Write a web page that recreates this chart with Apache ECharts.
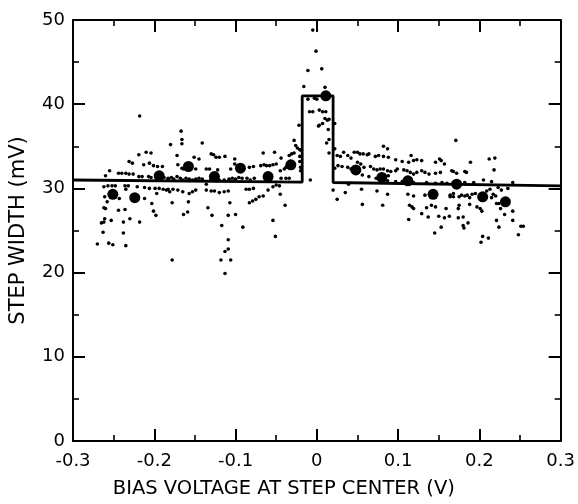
<!DOCTYPE html>
<html>
<head>
<meta charset="utf-8">
<script src="https://cdn.jsdelivr.net/npm/echarts@6/dist/echarts.min.js"></script>
<style>
html,body{margin:0;padding:0;background:#fff;}
#chart{width:578px;height:504px;}
</style>
</head>
<body>
<div id="chart"></div>
<script>
// Axis settings
const xMin = -0.3, xMax = 0.3, xStep = 0.1;
const yMin = 0, yMax = 50, yStep = 10;
const xTitle = 'BIAS VOLTAGE AT STEP CENTER (V)';
const yTitle = 'STEP WIDTH (mV)';

// Step-shaped fit line [bias V, width mV]
const stepLine = [[-0.3,31.0],[-0.018,30.75],[-0.018,41.0],[0.02,41.0],[0.02,30.7],[0.3,30.3]];

// Averaged values (large dots)
const averages = [
  [-0.251,29.3],[-0.224,28.9],[-0.194,31.5],[-0.158,32.6],[-0.126,31.4],[-0.094,32.4],
  [-0.060,31.4],[-0.032,32.8],[0.011,41.0],[0.048,32.2],[0.080,31.3],[0.112,30.9],
  [0.143,29.3],[0.172,30.5],[0.204,29.0],[0.232,28.4]
];

// Individual measurements, negative bias
const pointsLeft = [
  [-0.218,38.6],[-0.180,35.2],[-0.219,34.0],[-0.210,34.3],[-0.204,34.2],[-0.231,33.2],[-0.227,33.0],
  [-0.213,32.8],[-0.206,33.0],[-0.201,32.7],[-0.196,32.6],[-0.190,32.6],[-0.255,32.1],[-0.244,31.8],
  [-0.240,31.8],[-0.235,31.8],[-0.231,31.7],[-0.226,31.7],[-0.260,31.5],[-0.219,31.4],[-0.215,31.4],
  [-0.207,31.4],[-0.204,31.3],[-0.188,31.3],[-0.183,31.2],
  [-0.262,30.2],[-0.257,30.3],[-0.252,30.3],[-0.248,30.3],[-0.236,30.3],[-0.232,30.3],[-0.221,30.2],
  [-0.212,30.1],[-0.206,30.0],[-0.199,30.0],[-0.194,30.0],[-0.189,29.9],[-0.183,29.9],[-0.235,29.9],
  [-0.197,29.4],[-0.261,29.0],[-0.243,28.8],[-0.212,28.8],[-0.258,28.4],[-0.203,28.2],[-0.262,27.7],
  [-0.260,27.6],[-0.244,27.4],[-0.236,27.5],[-0.201,27.3],[-0.198,26.8],[-0.261,26.4],[-0.253,26.2],
  [-0.238,26.0],[-0.230,26.4],[-0.218,26.0],[-0.265,25.9],[-0.262,26.0],[-0.263,24.8],[-0.238,24.7],
  [-0.270,23.4],[-0.256,23.5],[-0.251,23.3],[-0.235,23.2],
  [-0.167,36.8],[-0.166,35.8],[-0.166,35.3],[-0.141,35.4],[-0.172,33.9],[-0.151,33.7],[-0.145,33.5],
  [-0.130,34.1],[-0.127,34.0],[-0.124,33.7],[-0.120,33.7],[-0.113,33.8],[-0.101,33.5],[-0.066,34.2],
  [-0.171,32.8],[-0.166,32.4],[-0.164,32.3],[-0.149,32.3],[-0.136,32.3],[-0.132,32.3],[-0.122,32.2],
  [-0.106,32.3],[-0.101,32.9],[-0.083,32.5],[-0.078,32.6],[-0.069,32.7],[-0.065,32.8],
  [-0.183,31.1],[-0.179,31.3],[-0.176,31.1],[-0.172,31.4],[-0.168,31.2],[-0.165,31.0],[-0.161,31.2],
  [-0.157,31.1],[-0.153,31.0],[-0.149,31.1],[-0.145,31.2],[-0.141,31.1],[-0.130,31.1],[-0.124,30.9],
  [-0.120,31.0],[-0.114,31.0],[-0.108,31.1],[-0.104,31.2],[-0.100,31.1],[-0.096,31.3],[-0.092,31.2],
  [-0.086,31.2],[-0.082,31.0],[-0.077,31.2],
  [-0.185,29.8],[-0.181,29.6],[-0.177,29.9],[-0.171,29.8],[-0.165,29.6],[-0.157,29.4],[-0.153,29.6],
  [-0.149,29.8],[-0.136,29.8],[-0.130,29.7],[-0.126,29.7],[-0.120,29.5],[-0.114,29.6],[-0.109,29.7],
  [-0.136,30.5],[-0.087,29.9],[-0.083,29.9],[-0.078,30.0],[-0.178,28.3],[-0.158,28.4],[-0.107,28.3],
  [-0.083,28.3],[-0.079,28.5],[-0.075,28.7],[-0.071,29.0],[-0.066,29.1],[-0.134,27.7],[-0.164,26.9],
  [-0.159,27.2],[-0.129,26.8],[-0.109,26.8],[-0.100,26.9],[-0.117,25.6],[-0.091,25.4],[-0.109,23.9],
  [-0.109,22.8],[-0.113,22.5],[-0.178,21.5],[-0.118,21.5],[-0.106,21.5],[-0.113,19.9],
  [-0.028,35.7],[-0.026,35.1],[-0.024,34.8],[-0.021,34.6],[-0.019,34.5],[-0.021,33.8],[-0.028,34.2],
  [-0.031,34.1],[-0.034,33.9],[-0.021,33.2],[-0.020,32.5],[-0.030,33.1],[-0.033,32.9],[-0.036,32.7],
  [-0.038,32.5],[-0.020,32.1],[-0.050,32.9],[-0.054,32.8],[-0.058,32.7],[-0.062,32.7],[-0.044,33.6],
  [-0.052,34.3],[-0.045,32.1],[-0.040,32.3],[-0.038,31.2],[-0.034,31.2],[-0.044,31.2],[-0.008,31.0],
  [-0.050,30.4],[-0.046,30.3],[-0.054,30.2],[-0.060,29.8],[-0.045,29.3],[-0.039,28.0],[-0.054,26.2],
  [-0.051,24.3],[-0.022,37.5]
];

// Individual measurements near zero bias
const pointsCenter = [
  [-0.005,48.8],[-0.001,46.3],[-0.011,44.0],[0.006,44.2],[-0.016,42.1],[0.010,42.0],[-0.011,40.6],
  [-0.003,40.7],[0.000,40.6],[-0.009,39.1],[-0.005,39.1],[0.003,39.3],[0.007,39.1],[0.011,39.1],
  [0.010,38.3],[0.013,38.1],[0.015,38.2],[0.003,37.5],[0.007,37.7],[0.002,37.4],[0.014,37.0],
  [0.022,37.7],[0.015,35.8],[0.012,35.4],[0.015,34.2]
];

// Individual measurements, positive bias
const pointsRight = [
  [0.022,34.7],[0.025,33.9],[0.029,33.8],[0.033,34.3],[0.026,32.7],[0.031,32.6],[0.038,33.9],
  [0.042,33.6],[0.046,34.3],[0.022,32.4],[0.038,32.5],[0.042,32.3],[0.046,32.1],[0.050,31.9],
  [0.020,29.8],[0.035,29.5],[0.025,28.7],[0.039,30.5],
  [0.082,35.0],[0.087,34.7],[0.050,34.3],[0.053,34.1],[0.057,34.1],[0.062,34.0],[0.064,34.1],
  [0.072,33.8],[0.076,33.9],[0.082,33.8],[0.088,33.7],[0.097,33.4],[0.105,33.2],[0.116,33.9],
  [0.119,33.3],[0.123,33.4],[0.129,33.3],[0.113,33.1],[0.146,33.1],[0.151,33.5],[0.153,33.3],
  [0.157,32.9],
  [0.050,33.1],[0.054,32.9],[0.058,32.5],[0.066,32.6],[0.070,32.3],[0.074,32.2],[0.078,32.3],
  [0.082,32.3],[0.087,32.1],[0.091,32.0],
  [0.097,32.1],[0.099,32.3],[0.107,32.2],[0.111,32.1],[0.115,31.9],[0.119,31.7],[0.123,31.9],
  [0.129,32.1],[0.133,31.9],[0.138,31.7],[0.146,31.8],[0.152,31.9],[0.166,32.1],
  [0.056,31.6],[0.064,31.4],[0.073,31.2],[0.084,31.4],[0.088,31.5],
  [0.087,30.9],[0.097,30.8],[0.105,30.8],[0.119,30.7],[0.135,30.7],[0.146,30.6],[0.154,30.7],
  [0.160,30.6],[0.168,30.7],
  [0.055,29.9],[0.074,29.7],[0.087,29.3],[0.112,29.3],[0.119,29.1],[0.133,29.2],[0.164,29.2],
  [0.168,29.4],[0.168,29.0],[0.056,28.1],[0.081,28.0],[0.114,28.0],[0.117,27.8],[0.119,27.6],
  [0.135,27.7],[0.141,28.0],[0.146,27.8],[0.159,27.6],[0.129,27.0],[0.137,26.6],[0.150,26.7],
  [0.157,26.5],[0.163,26.7],[0.113,26.3],[0.153,25.4],[0.145,24.7],
  [0.171,35.7],[0.189,33.1],[0.212,33.5],[0.219,33.6],[0.218,32.2],[0.168,32.0],[0.172,31.8],
  [0.182,32.0],[0.184,31.9],[0.182,30.7],[0.193,30.7],[0.205,31.0],[0.215,30.8],[0.241,30.7],
  [0.164,29.0],[0.175,29.0],[0.178,29.2],[0.182,29.1],[0.185,29.2],[0.191,29.3],[0.195,29.4],
  [0.209,29.7],[0.213,29.9],[0.217,29.3],[0.223,30.1],[0.227,29.8],[0.235,30.0],[0.188,28.9],
  [0.215,28.9],[0.220,29.1],[0.221,28.2],[0.224,28.2],[0.188,28.1],[0.175,28.0],[0.174,27.6],
  [0.197,27.8],[0.201,27.6],[0.203,27.3],[0.226,27.6],[0.241,27.3],[0.231,26.9],[0.174,26.5],
  [0.180,26.6],[0.221,26.2],[0.241,26.2],[0.186,25.9],[0.180,25.6],[0.181,25.3],[0.224,25.4],
  [0.251,25.5],[0.254,25.5],[0.248,24.5],[0.204,24.3],[0.211,24.1],[0.202,23.6]
];

const FONT = 'DejaVu Sans';
const INK = '#000';

function fmtX(v){ const r = Math.round(v*10)/10; return r === 0 ? '0' : r.toFixed(1); }
function fmtY(v){ return String(Math.round(v)); }

function xAxisDef(pos, showLabels){
  return {
    type:'value', position:pos, min:xMin, max:xMax, interval:xStep,
    axisLine:{show:true, onZero:false, lineStyle:{color:INK, width:2}},
    axisTick:{show:true, inside:true, length:12, lineStyle:{color:INK, width:2}},
    minorTick:{show:true, splitNumber:2, length:6, lineStyle:{color:INK, width:1.6}},
    splitLine:{show:false},
    axisLabel:{show:showLabels, formatter:fmtX, color:INK, fontFamily:FONT, fontSize:18, margin:11},
    name: showLabels ? xTitle : '',
    nameLocation:'middle', nameGap:38,
    nameTextStyle:{color:INK, fontFamily:FONT, fontSize:19.5, padding:[0,66,0,0]}
  };
}
function yAxisDef(pos, showLabels){
  return {
    type:'value', position:pos, min:yMin, max:yMax, interval:yStep,
    axisLine:{show:true, onZero:false, lineStyle:{color:INK, width:2}},
    axisTick:{show:true, inside:true, length:12, lineStyle:{color:INK, width:2}},
    minorTick:{show:true, splitNumber:2, length:6, lineStyle:{color:INK, width:1.6}},
    splitLine:{show:false},
    axisLabel:{show:showLabels, formatter:fmtY, color:INK, fontFamily:FONT, fontSize:18, margin:8},
    name: showLabels ? yTitle : '',
    nameLocation:'middle', nameGap:44, nameRotate:90,
    nameTextStyle:{color:INK, fontFamily:FONT, fontSize:21}
  };
}

const chart = echarts.init(document.getElementById('chart'), null, {renderer:'canvas'});
chart.setOption({
  animation:false,
  backgroundColor:'#fff',
  grid:{left:71, right:17, top:20, bottom:58, containLabel:false},
  xAxis:[xAxisDef('bottom', true), xAxisDef('top', false)],
  yAxis:[yAxisDef('left', true), yAxisDef('right', false)],
  series:[
    {type:'scatter', name:'points', xAxisIndex:0, yAxisIndex:0, symbol:'circle', symbolSize:3.6,
     itemStyle:{color:INK, opacity:1}, data:[].concat(pointsLeft, pointsCenter, pointsRight), z:3},
    {type:'scatter', name:'averages', xAxisIndex:0, yAxisIndex:0, symbol:'circle', symbolSize:11,
     itemStyle:{color:INK, opacity:1}, data:averages, z:4},
    {type:'line', name:'step', xAxisIndex:0, yAxisIndex:0, symbol:'none', data:stepLine,
     lineStyle:{color:INK, width:2.8}, z:5}
  ]
});
</script>
</body>
</html>
